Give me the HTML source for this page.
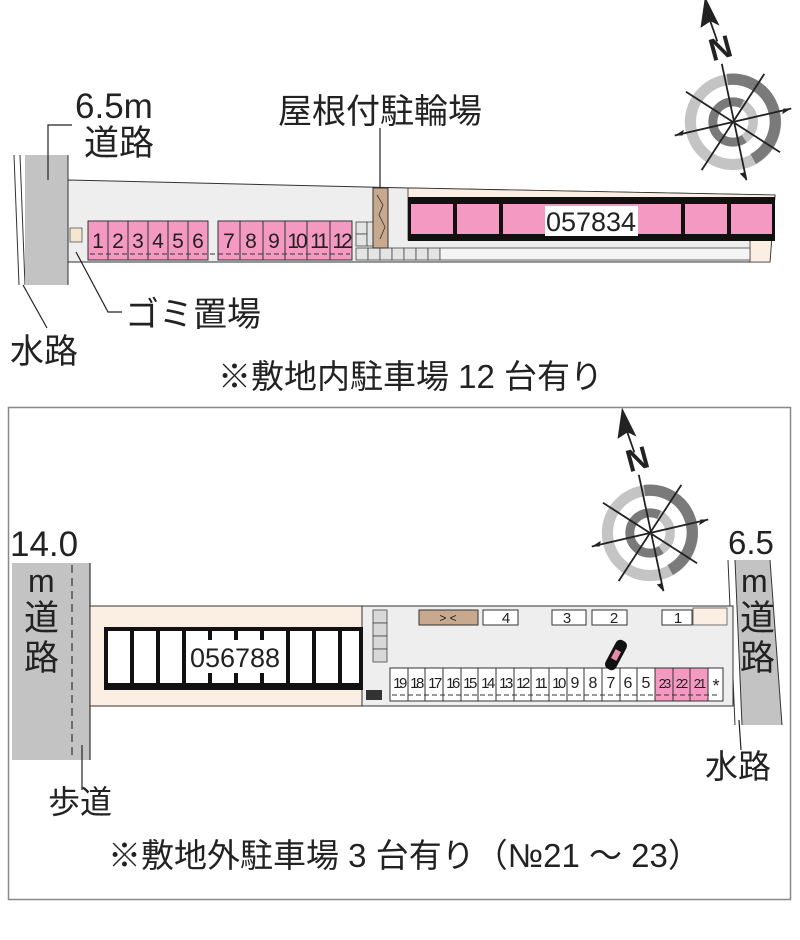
<!DOCTYPE html>
<html><head><meta charset="utf-8"><style>
html,body{margin:0;padding:0;background:#fff;}
svg{display:block;}
text{font-family:"Liberation Sans","Noto Sans CJK JP",sans-serif;fill:#222;}
</style></head><body>
<svg width="800" height="940" viewBox="0 0 800 940" xmlns="http://www.w3.org/2000/svg">
<defs>
<g id="compass">
  <circle r="38" fill="none" stroke="#c4c4c4" stroke-width="10"/>
  <path d="M -5 -38 A 38 38 0 0 1 18 33" fill="none" stroke="#7a7a7a" stroke-width="10"/>
  <circle r="18" fill="none" stroke="#7a7a7a" stroke-width="8"/>
  <path d="M 8 -16 A 18 18 0 0 1 10 15" fill="none" stroke="#c4c4c4" stroke-width="8"/>
  <g stroke="#222" stroke-width="1.6">
    <line x1="-52" y1="12" x2="52" y2="-12"/>
    <line x1="-42" y1="-27" x2="42" y2="27"/>
    <line x1="-28" y1="43" x2="28" y2="-43"/>
    <line x1="-10" y1="-52" x2="12" y2="52"/>
  </g>
  <path d="M-52 12 l8 -5 l-1 5 z M52 -12 l-8 5 l1 -5 z M12 52 l-6 -6 l4 -1 z" fill="#222"/>
  <line x1="-14" y1="-72" x2="-22" y2="-95" stroke="#222" stroke-width="1.6"/>
  <path d="M-25 -112 L-12 -86 L-20 -90 L-29 -84 Z" fill="#222"/>
  <text x="-20" y="-55" font-size="28" font-weight="bold" transform="rotate(-15 -16 -60)" font-family="Liberation Serif,serif">N</text>
</g>
</defs>

<!-- ===== TOP SECTION ===== -->
<line x1="14" y1="155" x2="19" y2="285" stroke="#333" stroke-width="1"/>
<line x1="20" y1="155" x2="25" y2="285" stroke="#333" stroke-width="1"/>
<rect x="25" y="155" width="43" height="130" fill="#c3c3c3"/>
<line x1="68" y1="155" x2="68" y2="285" stroke="#333" stroke-width="1"/>
<polygon points="68,180 410,188 775,195 770,262 68,262" fill="#eeeeee" stroke="#333" stroke-width="1"/>
<polygon points="408,188 775,195 770,262 750,262 750,240 408,240" fill="#fbeee2" stroke="#333" stroke-width="0.8"/>
<rect x="70" y="228" width="12" height="14" fill="#f5e6cf" stroke="#555" stroke-width="0.8"/>
<g stroke="#333" stroke-width="1" fill="#f49ac2">
<rect x="88" y="221" width="120" height="39"/>
<rect x="218" y="221" width="134" height="39"/>
</g>
<g stroke="#333" stroke-width="1">
<line x1="108" y1="221" x2="108" y2="260"/><line x1="128" y1="221" x2="128" y2="260"/><line x1="148" y1="221" x2="148" y2="260"/><line x1="168" y1="221" x2="168" y2="260"/><line x1="188" y1="221" x2="188" y2="260"/>
<line x1="240" y1="221" x2="240" y2="260"/><line x1="263" y1="221" x2="263" y2="260"/><line x1="285" y1="221" x2="285" y2="260"/><line x1="307" y1="221" x2="307" y2="260"/><line x1="330" y1="221" x2="330" y2="260"/>
</g>
<line x1="90" y1="254" x2="350" y2="254" stroke="#333" stroke-width="1" stroke-dasharray="5,3"/>
<g font-size="21" text-anchor="middle">
<text x="98" y="248">1</text><text x="118" y="248">2</text><text x="138" y="248">3</text><text x="158" y="248">4</text><text x="178" y="248">5</text><text x="198" y="248">6</text>
<text x="229" y="248">7</text><text x="251" y="248">8</text><text x="274" y="248">9</text><text x="296" y="248" letter-spacing="-3">10</text><text x="318" y="248" letter-spacing="-3">11</text><text x="341" y="248" letter-spacing="-3">12</text>
</g>
<g fill="#e4e4e4" stroke="#444" stroke-width="0.8">
<rect x="356" y="222" width="11" height="12"/><rect x="356" y="234" width="11" height="12"/><rect x="367" y="222" width="7" height="24"/>
<rect x="356" y="248" width="12" height="12"/><rect x="368" y="248" width="12" height="12"/><rect x="380" y="248" width="12" height="12"/><rect x="392" y="248" width="12" height="12"/><rect x="404" y="248" width="12" height="12"/><rect x="416" y="248" width="12" height="12"/><rect x="428" y="248" width="12" height="12"/>
</g>
<rect x="440" y="248" width="310" height="12" fill="#f4f4f4" stroke="#444" stroke-width="0.8"/>
<rect x="373" y="188" width="15" height="60" fill="#c8a98e" stroke="#333" stroke-width="1"/>
<path d="M377 195 l6 10 l-4 10 l6 12 l-5 12" stroke="#333" fill="none" stroke-width="0.8"/>
<line x1="380" y1="128" x2="380" y2="188" stroke="#222" stroke-width="1.2"/>
<rect x="408" y="197" width="367" height="44" fill="#111"/>
<g fill="#f49ac2">
<rect x="411" y="204" width="42" height="30"/><rect x="457" y="204" width="42" height="30"/><rect x="503" y="204" width="178" height="30"/><rect x="685" y="204" width="42" height="30"/><rect x="731" y="204" width="41" height="30"/>
</g>
<rect x="545" y="206" width="93" height="30" fill="#fff"/>
<text x="591" y="231" font-size="27" text-anchor="middle">057834</text>
<polyline points="72,125 48,125 48,180" fill="none" stroke="#222" stroke-width="1.2"/>
<polyline points="76,252 108,312 122,312" fill="none" stroke="#222" stroke-width="1.2"/>
<line x1="23" y1="285" x2="47" y2="328" stroke="#222" stroke-width="1.2"/>
<text x="75" y="118" font-size="35">6.5m</text>
<text x="84" y="155" font-size="35">道路</text>
<text x="278" y="123" font-size="34">屋根付駐輪場</text>
<text x="125" y="326" font-size="34">ゴミ置場</text>
<text x="10" y="363" font-size="34">水路</text>
<text x="218" y="388" font-size="33">※敷地内駐車場 12 台有り</text>
<g transform="translate(733,122) scale(1.12)"><use href="#compass"/></g>

<!-- ===== BOTTOM SECTION ===== -->
<rect x="8.5" y="407.5" width="782" height="492" fill="none" stroke="#888" stroke-width="1.5"/>
<rect x="12" y="563" width="78" height="197" fill="#c3c3c3"/>
<line x1="90" y1="563" x2="90" y2="760" stroke="#333" stroke-width="1.2"/>
<line x1="72" y1="565" x2="72" y2="760" stroke="#333" stroke-width="1.2" stroke-dasharray="8,5"/>
<line x1="82" y1="745" x2="82" y2="790" stroke="#222" stroke-width="1.2"/>
<text x="10" y="556" font-size="35">14.0</text>
<text x="28" y="592" font-size="32">m</text>
<text x="24" y="630" font-size="35">道</text>
<text x="24" y="670" font-size="35">路</text>
<text x="48" y="813" font-size="32">歩道</text>
<polygon points="735,560 770,560 782,725 742,725" fill="#c3c3c3"/>
<line x1="770" y1="560" x2="782" y2="725" stroke="#333" stroke-width="1"/>
<line x1="728" y1="560" x2="735" y2="725" stroke="#333" stroke-width="1"/>
<line x1="735" y1="560" x2="742" y2="725" stroke="#333" stroke-width="1"/>
<line x1="739" y1="720" x2="741" y2="750" stroke="#222" stroke-width="1.2"/>
<text x="728" y="554" font-size="33">6.5</text>
<text x="741" y="592" font-size="32">m</text>
<text x="740" y="630" font-size="35">道</text>
<text x="740" y="670" font-size="35">路</text>
<text x="705" y="778" font-size="33">水路</text>
<rect x="90" y="606" width="643" height="100" fill="#eeeeee" stroke="#333" stroke-width="1"/>
<rect x="90" y="606" width="272" height="100" fill="#fbeee2" stroke="#333" stroke-width="1"/>
<rect x="104" y="627" width="259" height="63" fill="#111"/>
<g fill="#fff">
<rect x="108" y="631" width="22" height="52"/><rect x="134" y="631" width="22" height="52"/><rect x="160" y="631" width="22" height="52"/><rect x="186" y="631" width="22" height="52"/><rect x="212" y="631" width="22" height="52"/><rect x="238" y="631" width="22" height="52"/><rect x="264" y="631" width="22" height="52"/><rect x="290" y="631" width="22" height="52"/><rect x="316" y="631" width="22" height="52"/><rect x="342" y="631" width="17" height="52"/>
</g>
<rect x="186" y="640" width="98" height="33" fill="#fff"/>
<text x="235" y="667" font-size="27" text-anchor="middle">056788</text>
<g fill="#d8d8d8" stroke="#444" stroke-width="0.8">
<rect x="373" y="610" width="14" height="13"/><rect x="373" y="623" width="14" height="13"/><rect x="373" y="636" width="14" height="13"/><rect x="373" y="649" width="14" height="13"/>
</g>
<rect x="366" y="690" width="16" height="10" fill="#333"/>
<rect x="419" y="610" width="59" height="15" fill="#c8a98e" stroke="#333" stroke-width="1"/>
<text x="448" y="622" font-size="12" text-anchor="middle">&gt; &lt;</text>
<g fill="#fff" stroke="#333" stroke-width="1">
<rect x="483" y="610" width="35" height="15"/><rect x="552" y="610" width="34" height="15"/><rect x="592" y="610" width="35" height="15"/><rect x="662" y="610" width="30" height="15"/>
</g>
<rect x="693" y="608" width="34" height="17" fill="#fbeee2" stroke="#555" stroke-width="0.8"/>
<g font-size="15" text-anchor="middle"><text x="506" y="623">4</text><text x="567" y="623">3</text><text x="614" y="623">2</text><text x="678" y="623">1</text></g>
<rect x="390" y="668" width="265" height="33" fill="#fff" stroke="#333" stroke-width="1"/>
<rect x="655" y="668" width="53" height="33" fill="#f49ac2" stroke="#333" stroke-width="1"/>
<rect x="708" y="668" width="15" height="33" fill="#fff" stroke="#333" stroke-width="1"/>
<g stroke="#333" stroke-width="1">
<line x1="408" y1="668" x2="408" y2="701"/><line x1="425" y1="668" x2="425" y2="701"/><line x1="443" y1="668" x2="443" y2="701"/><line x1="461" y1="668" x2="461" y2="701"/><line x1="478" y1="668" x2="478" y2="701"/><line x1="496" y1="668" x2="496" y2="701"/><line x1="514" y1="668" x2="514" y2="701"/><line x1="531" y1="668" x2="531" y2="701"/><line x1="549" y1="668" x2="549" y2="701"/><line x1="567" y1="668" x2="567" y2="701"/><line x1="584" y1="668" x2="584" y2="701"/><line x1="602" y1="668" x2="602" y2="701"/><line x1="620" y1="668" x2="620" y2="701"/><line x1="637" y1="668" x2="637" y2="701"/>
<line x1="673" y1="668" x2="673" y2="701"/><line x1="690" y1="668" x2="690" y2="701"/>
</g>
<line x1="392" y1="695" x2="720" y2="695" stroke="#333" stroke-width="1" stroke-dasharray="5,3"/>
<g font-size="15" text-anchor="middle" letter-spacing="-2.5">
<text x="399" y="688">19</text><text x="416" y="688">18</text><text x="434" y="688">17</text><text x="452" y="688">16</text><text x="469" y="688">15</text><text x="487" y="688">14</text><text x="505" y="688">13</text><text x="522" y="688">12</text><text x="540" y="688">11</text><text x="558" y="688">10</text>
</g>
<g font-size="16" text-anchor="middle">
<text x="575" y="688">9</text><text x="593" y="688">8</text><text x="611" y="688">7</text><text x="628" y="688">6</text><text x="646" y="688">5</text>
</g>
<g font-size="13" text-anchor="middle" letter-spacing="-2"><text x="664" y="688">23</text><text x="681" y="688">22</text><text x="699" y="688">21</text></g>
<text x="716" y="692" font-size="18" text-anchor="middle">*</text>
<g transform="translate(616,655) rotate(28)">
<rect x="-6" y="-16" width="12" height="32" rx="5" fill="#111"/>
<rect x="-3" y="-5" width="6" height="10" fill="#e58aa8"/>
</g>
<text x="108" y="867" font-size="33">※敷地外駐車場 3 台有り（№21 ～ 23）</text>
<g transform="translate(650,533) scale(1.12)"><use href="#compass"/></g>
</svg>
</body></html>
